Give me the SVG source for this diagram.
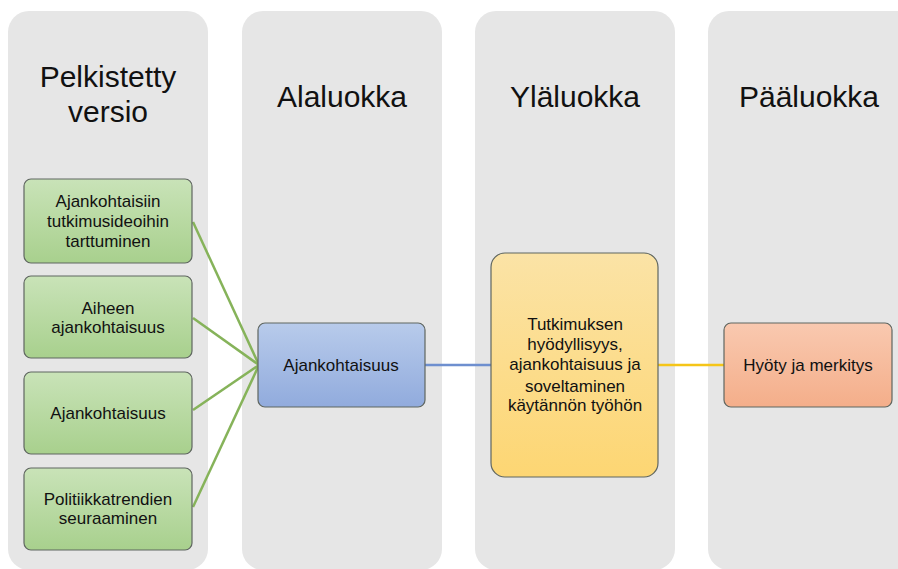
<svg xmlns="http://www.w3.org/2000/svg" width="898" height="569" viewBox="0 0 898 569">
<defs>
<linearGradient id="gG" x1="0" y1="0" x2="0" y2="1"><stop offset="0" stop-color="#c9e3b8"/><stop offset="1" stop-color="#a8d08d"/></linearGradient>
<linearGradient id="gB" x1="0" y1="0" x2="0" y2="1"><stop offset="0" stop-color="#b8cbeb"/><stop offset="1" stop-color="#91abdd"/></linearGradient>
<linearGradient id="gY" x1="0" y1="0" x2="0" y2="1"><stop offset="0" stop-color="#fbe3a6"/><stop offset="1" stop-color="#fdd673"/></linearGradient>
<linearGradient id="gS" x1="0" y1="0" x2="0" y2="1"><stop offset="0" stop-color="#f9c9b0"/><stop offset="1" stop-color="#f4ae8a"/></linearGradient>
</defs>
<style>
.col{fill:#e6e6e6}
.title{font-family:"Liberation Sans",Arial,sans-serif;font-size:30px;fill:#111;text-anchor:middle}
.box{stroke:#5f6660;stroke-width:1.2}
.t{font-family:"Liberation Sans",Arial,sans-serif;font-size:17px;fill:#111;text-anchor:middle}
.cg{stroke:#86b35a;stroke-width:2.5;fill:none}
</style>
<rect width="898" height="569" fill="#ffffff"/>
<g id="columns">
<rect class="col" x="8" y="11" width="200" height="559" rx="21"/>
<rect class="col" x="242" y="11" width="200" height="559" rx="21"/>
<rect class="col" x="475" y="11" width="200" height="559" rx="21"/>
<rect class="col" x="708" y="11" width="210" height="559" rx="21"/>
<text class="title" x="108" y="87">Pelkistetty</text>
<text class="title" x="108" y="122">versio</text>
<text class="title" x="342" y="107">Alaluokka</text>
<text class="title" x="575" y="107">Yläluokka</text>
<text class="title" x="809" y="107">Pääluokka</text>
</g>
<g id="connectors">
<line class="cg" x1="193" y1="222" x2="259" y2="365"/>
<line class="cg" x1="193" y1="318" x2="259" y2="365"/>
<line class="cg" x1="193" y1="410" x2="259" y2="365"/>
<line class="cg" x1="193" y1="507" x2="259" y2="365"/>
<line x1="425" y1="365" x2="491" y2="365" stroke="#6e8fcf" stroke-width="2.5"/>
<line x1="658" y1="365" x2="724" y2="365" stroke="#f5c518" stroke-width="2.5"/>
</g>
<g id="n1">
<rect class="box" x="24" y="179" width="168" height="84" rx="7" fill="url(#gG)"/>
<text class="t" x="108" y="207">Ajankohtaisiin</text>
<text class="t" x="108" y="227">tutkimusideoihin</text>
<text class="t" x="108" y="247">tarttuminen</text>
</g>
<g id="n2">
<rect class="box" x="24" y="276" width="168" height="82" rx="7" fill="url(#gG)"/>
<text class="t" x="108" y="314">Aiheen</text>
<text class="t" x="108" y="333">ajankohtaisuus</text>
</g>
<g id="n3">
<rect class="box" x="24" y="372" width="168" height="82" rx="7" fill="url(#gG)"/>
<text class="t" x="108" y="419">Ajankohtaisuus</text>
</g>
<g id="n4">
<rect class="box" x="24" y="468" width="168" height="82" rx="7" fill="url(#gG)"/>
<text class="t" x="108" y="505">Politiikkatrendien</text>
<text class="t" x="108" y="524">seuraaminen</text>
</g>
<g id="n5">
<rect class="box" x="258" y="323" width="167" height="84" rx="7" fill="url(#gB)"/>
<text class="t" x="341" y="371">Ajankohtaisuus</text>
</g>
<g id="n6">
<rect class="box" x="491" y="253" width="167" height="224" rx="14" fill="url(#gY)"/>
<text class="t" x="575" y="330">Tutkimuksen</text>
<text class="t" x="575" y="350">hyödyllisyys,</text>
<text class="t" x="575" y="370">ajankohtaisuus ja</text>
<text class="t" x="575" y="392">soveltaminen</text>
<text class="t" x="575" y="411">käytännön työhön</text>
</g>
<g id="n7">
<rect class="box" x="724" y="323" width="168" height="84" rx="7" fill="url(#gS)"/>
<text class="t" x="808" y="371">Hyöty ja merkitys</text>
</g>
</svg>
